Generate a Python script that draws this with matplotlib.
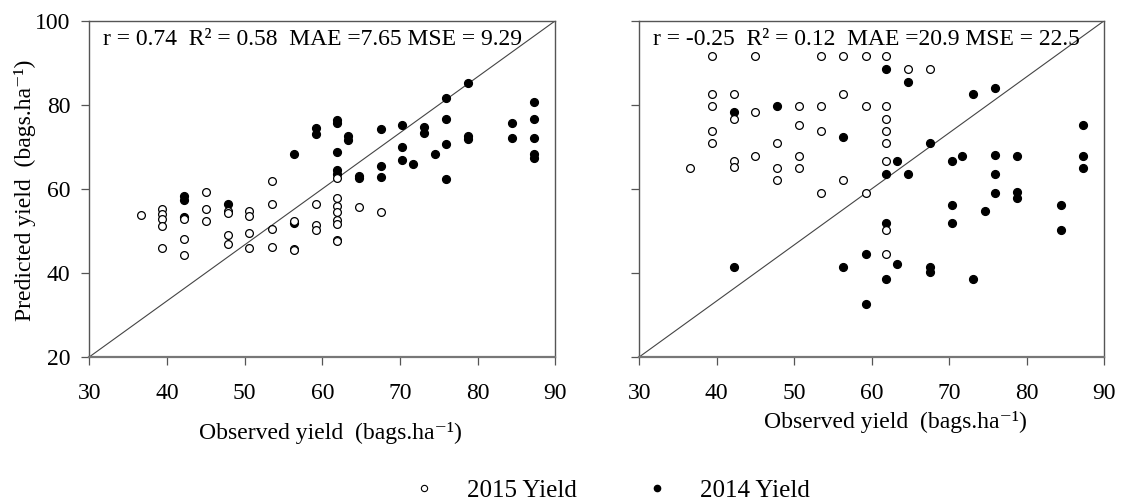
import matplotlib
matplotlib.use("Agg")
import matplotlib.pyplot as plt
from matplotlib.lines import Line2D

plt.rcParams['font.family'] = ['Liberation Serif', 'DejaVu Serif']

# ---- calibration data (observed vs predicted yield, bags/ha) ----
obs15_a = [36.6, 39.4, 39.4, 39.4, 39.4, 39.4, 42.2, 42.2, 42.2, 45.0, 45.0, 45.0,
           47.8, 47.8, 47.8, 47.8, 50.6, 50.6, 50.6, 50.6, 53.5, 53.5, 53.5, 53.5,
           56.3, 56.3, 56.3, 59.2, 59.2, 59.2, 61.9, 61.9, 61.9, 61.9, 61.9, 61.9,
           61.9, 61.9, 64.7, 67.5]
pred15_a = [53.7, 55.1, 54.0, 52.9, 51.1, 46.0, 52.8, 48.1, 44.3, 59.3, 55.2, 52.3,
            54.7, 54.3, 48.9, 46.8, 54.7, 53.5, 49.4, 46.0, 61.8, 56.3, 50.5, 46.2,
            52.4, 45.8, 45.4, 56.3, 51.3, 50.3, 62.5, 57.9, 56.0, 54.4, 52.6, 51.7,
            47.9, 47.5, 55.6, 54.4]

obs14_a = [42.2, 42.2, 42.2, 47.8, 56.3, 56.3, 59.2, 59.2, 61.9, 61.9, 61.9, 61.9,
           61.9, 63.3, 63.3, 64.7, 64.7, 67.5, 67.5, 67.5, 70.3, 70.3, 70.3, 71.7,
           73.1, 73.1, 74.5, 75.9, 75.9, 75.9, 75.9, 78.7, 78.7, 78.7, 84.4, 84.4,
           87.2, 87.2, 87.2, 87.2, 87.2]
pred14_a = [58.2, 57.4, 53.2, 56.4, 68.3, 51.8, 74.4, 73.0, 76.3, 75.6, 68.8, 64.4,
            63.6, 72.6, 71.7, 63.1, 62.6, 74.2, 65.5, 62.8, 75.2, 70.0, 66.8, 65.8,
            74.7, 73.3, 68.4, 81.6, 76.6, 70.6, 62.4, 85.1, 72.6, 71.9, 75.7, 72.1,
            80.6, 76.6, 72.1, 68.4, 67.4]

# ---- validation data ----
obs15_b = [36.6, 39.4, 39.4, 39.4, 39.4, 39.4, 42.2, 42.2, 42.2, 42.2, 45.0, 45.0,
           45.0, 47.8, 47.8, 47.8, 50.6, 50.6, 50.6, 50.6, 53.5, 53.5, 53.5, 53.5,
           56.3, 56.3, 56.3, 59.2, 59.2, 59.2, 61.9, 61.9, 61.9, 61.9, 61.9, 61.9,
           61.9, 61.9, 64.7, 67.5]
pred15_b = [65.0, 91.5, 82.6, 79.6, 73.8, 70.8, 82.6, 76.7, 66.6, 65.1, 91.5, 78.2,
            67.9, 70.8, 65.0, 62.0, 79.6, 75.3, 67.9, 65.0, 91.5, 79.6, 73.8, 59.0,
            91.5, 82.6, 62.0, 91.5, 79.6, 59.0, 91.5, 79.6, 76.7, 73.8, 70.8, 66.5,
            50.3, 44.4, 88.5, 88.5]

obs14_b = [42.2, 42.2, 47.8, 56.3, 56.3, 59.2, 59.2, 61.9, 61.9, 61.9, 61.9, 63.3,
           63.3, 64.7, 64.7, 67.5, 67.5, 67.5, 70.3, 70.3, 70.3, 71.7, 73.1, 73.1,
           74.6, 75.9, 75.9, 75.9, 75.9, 78.7, 78.7, 78.7, 84.4, 84.4, 87.2, 87.2,
           87.2]
pred14_b = [78.3, 41.5, 79.6, 72.3, 41.5, 44.4, 32.7, 88.5, 63.5, 51.9, 38.5, 66.5,
            42.2, 85.5, 63.6, 70.9, 41.5, 40.2, 66.5, 56.1, 51.8, 67.9, 82.6, 38.5,
            54.7, 84.0, 68.1, 63.6, 59.0, 67.9, 59.2, 57.9, 56.1, 50.2, 75.3, 67.9,
            65.0]

stats = ["r = 0.74  R\u00b2 = 0.58  MAE =7.65 MSE = 9.29",
         "r = -0.25  R\u00b2 = 0.12  MAE =20.9 MSE = 22.5"]
x_ticks = [30, 40, 50, 60, 70, 80, 90]
y_ticks = [20, 40, 60, 80, 100]

FS = 17
fig = plt.figure(figsize=(11.21, 5.04), dpi=100)
ax1 = fig.add_axes([0.0796, 0.2917, 0.4159, 0.6673])
ax2 = fig.add_axes([0.5702, 0.2917, 0.4149, 0.6673])

panels = [(ax1, obs15_a, pred15_a, obs14_a, pred14_a, stats[0]),
          (ax2, obs15_b, pred15_b, obs14_b, pred14_b, stats[1])]

for ax, xo, yo, xf, yf, txt in panels:
    ax.plot(xf, yf, 'o', ls='none', color='black', ms=5.6, zorder=3)
    ax.plot(xo, yo, 'o', ls='none', mfc='white', mec='black', mew=0.9, ms=5.6, zorder=4)
    # corner-to-corner reference line
    ax.plot([0, 1], [0, 1], transform=ax.transAxes, color='#444444', lw=0.8, zorder=2)
    ax.set_xlim(30, 90)
    ax.set_ylim(20, 100)
    ax.set_xticks(x_ticks)
    ax.set_yticks(y_ticks)
    ax.tick_params(axis='x', direction='out', length=5.5, width=0.9, color='#555555',
                   labelsize=FS, pad=13)
    ax.tick_params(axis='y', direction='out', length=5.5, width=0.9, color='#555555',
                   labelsize=FS, pad=8)
    for side, sp in ax.spines.items():
        sp.set_color('#555555')
        sp.set_linewidth(1.0)
    ax.spines['bottom'].set_linewidth(1.6)
    ax.spines['bottom'].set_color('#777777')
    ax.text(0.03, 0.943, txt, transform=ax.transAxes, fontsize=FS, va='center', ha='left')

ax2.tick_params(axis='y', labelleft=False)

unit = '(bags.ha\u207b\u00b9)'
fig.text(0.295, 0.141, 'Observed yield  ' + unit, fontsize=FS, ha='center', va='center')
fig.text(0.799, 0.163, 'Observed yield  ' + unit, fontsize=FS, ha='center', va='center')
fig.text(0.022, 0.622, 'Predicted yield  ' + unit, fontsize=FS, ha='center', va='center',
         rotation=90)

handles = [Line2D([], [], marker='o', ls='none', mfc='white', mec='black', mew=0.8, ms=4.5),
           Line2D([], [], marker='o', ls='none', color='black', ms=4.5)]
fig.legend(handles, ['2015 Yield', '2014 Yield'], loc='center', ncol=2,
           bbox_to_anchor=(0.545, 0.027), frameon=False, fontsize=18,
           handlelength=1.0, handletextpad=1.22, columnspacing=2.7, borderpad=0)

fig.savefig('out.png', dpi=100)
